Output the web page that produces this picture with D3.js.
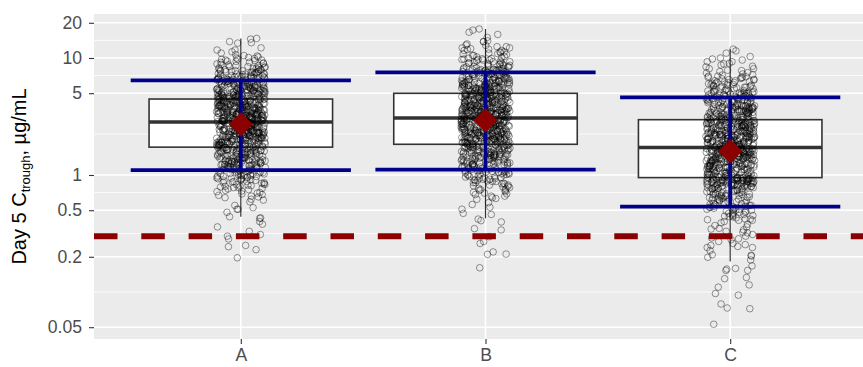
<!DOCTYPE html>
<html><head><meta charset="utf-8">
<script src="https://cdn.jsdelivr.net/npm/d3@7"></script>
<style>body{margin:0;background:#fff}svg{display:block}</style>
</head><body><svg id="chart" width="863" height="367"></svg>
<script>
// ---------------- data ----------------
const categories = ["A", "B", "C"];

const valuesA = [0.196,0.23,0.244,0.25,0.284,0.30,0.31,0.33,0.36,0.38,0.40,0.426,0.43,0.44,0.48,
0.51,0.51,0.526,0.55,0.59,0.61,0.64,0.66,0.68,0.69,0.72,0.74,0.76,0.78,
0.80,0.81,0.83,0.84,0.86,0.88,0.89,0.91,0.93,0.95,0.97,0.99,
1.00,1.02,1.03,1.05,1.06,1.08,1.09,1.11,1.12,1.14,1.15,1.17,1.18,1.20,1.21,1.23,1.24,1.25,
1.26,1.27,1.28,1.29,1.30,1.31,1.32,1.33,1.34,1.35,1.36,1.37,1.38,1.39,1.40,1.41,1.43,1.44,1.45,1.46,1.48,1.49,1.51,1.52,1.53,1.55,1.56,1.58,
1.59,1.60,1.61,1.62,1.63,1.64,1.65,1.66,1.67,1.68,1.69,1.70,1.71,1.72,1.73,1.74,1.75,1.76,1.77,1.78,1.79,1.80,1.81,1.82,1.83,1.84,1.85,1.86,1.87,1.88,1.89,1.90,1.91,1.92,1.94,1.95,1.97,1.99,
2.00,2.01,2.02,2.03,2.05,2.06,2.07,2.08,2.09,2.10,2.12,2.13,2.14,2.15,2.16,2.17,2.18,2.19,2.20,2.21,2.22,2.23,2.24,2.25,2.26,2.27,2.28,2.29,2.30,2.31,2.32,2.33,2.34,2.35,2.36,2.37,2.38,2.39,2.40,2.41,2.42,2.44,2.45,2.47,2.49,2.51,
2.52,2.53,2.55,2.56,2.57,2.59,2.60,2.61,2.63,2.64,2.65,2.67,2.68,2.69,2.71,2.72,2.73,2.75,2.76,2.77,2.79,2.80,2.81,2.83,2.84,2.85,2.87,2.88,2.89,2.91,2.92,2.93,2.95,2.96,2.97,2.99,3.00,3.01,3.03,3.04,3.05,3.07,3.08,3.09,3.11,3.12,3.14,3.16,
3.17,3.19,3.20,3.22,3.23,3.25,3.27,3.28,3.30,3.31,3.33,3.35,3.36,3.38,3.39,3.41,3.43,3.44,3.46,3.47,3.49,3.51,3.52,3.54,3.55,3.57,3.59,3.60,3.62,3.63,3.65,3.67,3.68,3.70,3.71,3.73,3.75,3.76,3.78,3.79,3.81,3.83,3.84,3.86,3.87,3.89,3.91,3.92,3.94,3.95,3.96,3.98,
4.00,4.02,4.05,4.07,4.09,4.12,4.14,4.16,4.19,4.21,4.23,4.26,4.28,4.30,4.33,4.35,4.37,4.40,4.42,4.44,4.47,4.49,4.51,4.54,4.56,4.58,4.61,4.63,4.65,4.68,4.70,4.72,4.75,4.77,4.79,4.82,4.84,4.86,4.89,4.91,4.93,4.96,4.98,5.00,
5.03,5.07,5.11,5.15,5.19,5.22,5.26,5.30,5.34,5.38,5.42,5.45,5.49,5.53,5.57,5.61,5.65,5.68,5.72,5.76,5.80,5.84,5.88,5.91,5.95,5.99,6.03,6.07,6.11,6.14,6.18,6.22,6.26,6.30,
6.35,6.42,6.49,6.55,6.62,6.69,6.76,6.83,6.90,6.96,7.03,7.10,7.17,7.24,7.30,7.37,7.44,7.51,7.58,7.64,7.71,7.78,7.85,7.92,
8.0,8.15,8.3,8.45,8.6,8.75,8.9,9.05,9.2,9.35,9.5,9.6,9.75,9.9,
10.1,10.4,10.7,11.0,11.3,11.7,11.7,12.2,13.4,13.5,13.8,14.5,14.7,
0.62,0.65,0.67,0.70,0.71,0.73,0.75,0.77,0.78,0.79,
0.80,0.82,0.83,0.85,0.86,0.87,0.88,0.90,0.91,0.92,0.93,0.94,0.95,0.96,0.97,0.98,0.99,0.99,
1.00,1.01,1.02,1.03,1.04,1.05,1.06,1.07,1.08,1.09,1.10,1.11,1.12,1.13,1.14,1.15,1.16,1.17,1.18,1.19,1.20,1.21,1.22,1.22,1.23,1.23,1.24,1.24,1.25,1.25,
1.26,1.27,1.28,1.29,1.30,1.31,1.32,1.33,1.34,1.35,1.36,1.37,1.38,1.39,1.40,1.41,1.42,1.43,1.44,1.45,1.46,1.47,1.48,1.49,1.50,1.51,1.52,1.53,1.54,1.55,1.57,1.58,1.60,1.61,1.62,1.63,1.65,1.66,1.68,1.69,1.71,1.72,
1.74,1.75,1.76,1.77,1.78,1.79,1.80,1.81,1.82,1.83,1.84,1.85,1.86,1.87,1.88,1.89,1.90,1.91,1.92,1.93,1.94,1.95,1.96,1.97,1.98,1.99,2.00,2.01,2.02,2.03,2.04,2.05,2.06,2.07,2.08,2.09,2.10,2.11,2.12,2.13,2.14,2.15,2.16,2.17,2.18,2.19,2.20,
2.21,2.22,2.23,2.25,2.26,2.27,2.28,2.29,2.31,2.32,2.33,2.34,2.35,2.37,2.38,2.39,2.40,2.41,2.43,2.44,2.45,2.46,2.47,2.49,2.50,2.51,2.52,2.53,2.55,2.56,2.57,2.58,2.59,2.61,2.62,2.63,2.64,2.65,2.67,2.68,2.69,2.70,2.71,2.73,2.74,2.75,2.76,2.77,2.79,2.80,2.81,2.82,2.83,
2.85,2.86,2.87,2.89,2.90,2.91,2.92,2.93,2.95,2.96,2.97,2.98,2.99,3.01,3.02,3.03,3.04,3.05,3.07,3.08,3.09,3.10,3.11,3.13,3.14,3.15,3.16,3.17,3.19,3.20,3.21,3.22,3.23,3.25,3.26,3.27,3.28,3.29,3.31,3.32,3.33,3.34,3.35,3.37,3.38,3.39,3.40,3.41,3.43,3.44,
3.46,3.48,3.50,3.52,3.54,3.56,3.58,3.60,3.62,3.64,3.66,3.68,3.70,3.72,3.74,3.76,3.78,3.80,3.82,3.84,3.86,3.88,3.90,3.92,3.94,3.96,3.98,4.00,4.02,4.04,4.06,4.08,4.10,4.12,4.14,4.16,4.18,4.20,4.22,4.24,4.26,4.28,4.30,4.32,4.34,4.36,4.38,4.40,4.42,4.44,
4.47,4.50,4.52,4.55,4.58,4.60,4.63,4.66,4.68,4.71,4.74,4.76,4.79,4.82,4.84,4.87,4.90,4.92,4.95,4.98,5.00,5.03,5.06,5.08,5.11,5.14,5.16,5.19,5.22,5.24,5.27,5.30,5.32,5.35,5.38,5.40,5.43,5.46,
5.50,5.54,5.59,5.63,5.68,5.72,5.77,5.81,5.86,5.90,5.95,5.99,6.04,6.08,6.13,6.17,6.22,6.26,6.31,6.35,6.40,6.44,6.49,6.53,6.58,6.62,6.67,6.71,6.76,6.80,6.85,6.89,6.94,6.98,
7.05,7.13,7.21,7.30,7.38,7.46,7.55,7.63,7.71,7.80,7.88,7.96,8.05,8.13,8.21,8.30,8.38,8.46,
8.6,8.8,9.0,9.2,9.4,9.6,9.8,10.0,10.2,10.5];

const valuesB = [0.161,0.21,0.211,0.22,0.26,0.27,0.297,0.339,0.348,0.397,0.407,0.42,0.46,0.47,
0.51,0.53,0.56,0.58,0.62,0.64,0.66,0.69,0.71,0.74,0.76,0.78,
0.80,0.82,0.84,0.86,0.88,0.90,0.92,0.94,0.96,0.98,
1.01,1.02,1.04,1.06,1.07,1.09,1.10,1.12,1.14,1.15,1.17,1.19,1.21,1.23,1.25,
1.27,1.28,1.29,1.31,1.32,1.33,1.35,1.36,1.37,1.39,1.40,1.41,1.43,1.44,1.45,1.47,1.48,1.49,1.51,1.52,1.53,1.55,1.56,1.57,1.58,
1.59,1.60,1.61,1.63,1.64,1.65,1.66,1.67,1.68,1.69,1.70,1.71,1.73,1.74,1.75,1.76,1.77,1.78,1.79,1.80,1.81,1.83,1.84,1.85,1.86,1.87,1.88,1.89,1.90,1.91,1.93,1.94,1.95,1.96,1.97,1.99,
2.00,2.01,2.02,2.04,2.05,2.06,2.07,2.08,2.09,2.11,2.12,2.13,2.14,2.15,2.16,2.18,2.19,2.20,2.21,2.22,2.23,2.25,2.26,2.27,2.28,2.29,2.30,2.32,2.33,2.34,2.35,2.36,2.37,2.39,2.40,2.41,2.42,2.43,2.44,2.46,2.47,2.48,2.49,2.51,
2.52,2.54,2.55,2.56,2.58,2.59,2.60,2.62,2.63,2.64,2.66,2.67,2.68,2.70,2.71,2.72,2.74,2.75,2.76,2.78,2.79,2.80,2.82,2.83,2.84,2.86,2.87,2.88,2.90,2.91,2.92,2.94,2.95,2.96,2.98,2.99,3.00,3.02,3.03,3.04,3.06,3.07,3.08,3.10,3.11,3.12,3.14,3.15,
3.17,3.18,3.20,3.22,3.23,3.25,3.27,3.28,3.30,3.32,3.33,3.35,3.37,3.38,3.40,3.42,3.43,3.45,3.47,3.48,3.50,3.52,3.53,3.55,3.57,3.58,3.60,3.62,3.63,3.65,3.67,3.68,3.70,3.72,3.73,3.75,3.77,3.78,3.80,3.82,3.83,3.85,3.87,3.88,3.90,3.92,3.93,3.95,3.96,3.98,
4.00,4.02,4.04,4.07,4.09,4.11,4.13,4.16,4.18,4.20,4.22,4.25,4.27,4.29,4.31,4.34,4.36,4.38,4.40,4.43,4.45,4.47,4.49,4.52,4.54,4.56,4.58,4.61,4.63,4.65,4.67,4.70,4.72,4.74,4.76,4.79,4.81,4.83,4.85,4.88,4.90,4.92,4.94,4.97,4.99,5.01,
5.03,5.07,5.10,5.14,5.17,5.21,5.25,5.28,5.32,5.35,5.39,5.43,5.46,5.50,5.53,5.57,5.61,5.64,5.68,5.71,5.75,5.79,5.82,5.86,5.89,5.93,5.97,6.00,6.04,6.07,6.11,6.15,6.18,6.22,6.25,6.29,
6.34,6.40,6.47,6.53,6.59,6.66,6.72,6.78,6.85,6.91,6.97,7.04,7.10,7.16,7.23,7.29,7.35,7.42,7.48,7.54,7.61,7.67,7.73,7.80,7.86,7.92,
8.0,8.1,8.25,8.4,8.5,8.65,8.8,8.9,9.05,9.2,9.3,9.45,9.6,9.7,9.85,9.95,
10.1,10.3,10.5,10.7,10.9,11.1,11.3,11.6,11.8,12.0,12.2,12.5,
12.8,13.2,13.8,13.8,14.0,15.0,15.9,16.6,17.3,17.7,
0.63,0.66,0.68,0.70,0.72,0.74,0.75,0.77,0.79,
0.81,0.82,0.84,0.85,0.86,0.88,0.89,0.90,0.91,0.92,0.93,0.94,0.95,0.96,0.97,0.99,
1.00,1.01,1.02,1.03,1.04,1.05,1.06,1.07,1.08,1.09,1.10,1.11,1.12,1.13,1.14,1.15,1.16,1.17,1.18,1.19,1.20,1.21,1.22,1.23,1.24,1.25,1.26,1.27,1.28,1.29,
1.30,1.31,1.32,1.33,1.34,1.35,1.36,1.37,1.38,1.39,1.40,1.41,1.42,1.43,1.44,1.45,1.46,1.47,1.48,1.49,1.50,1.51,1.52,1.53,1.54,1.55,1.56,1.57,1.58,1.59,1.60,1.62,1.63,1.65,1.66,1.68,1.69,1.71,1.72,1.74,1.75,1.77,1.78,1.80,1.82,
1.84,1.85,1.86,1.87,1.88,1.89,1.90,1.91,1.92,1.93,1.94,1.95,1.96,1.97,1.98,1.99,2.00,2.01,2.02,2.03,2.04,2.05,2.06,2.07,2.08,2.09,2.10,2.11,2.12,2.13,2.14,2.15,2.16,2.17,2.18,2.19,2.20,2.21,2.22,2.23,2.24,2.25,2.26,2.27,2.28,2.29,2.30,2.31,2.32,2.33,2.34,
2.35,2.37,2.38,2.40,2.41,2.43,2.44,2.46,2.47,2.49,2.50,2.52,2.53,2.55,2.56,2.58,2.59,2.61,2.62,2.64,2.65,2.67,2.68,2.70,2.71,2.73,2.74,2.76,2.77,2.79,2.80,2.82,2.83,2.85,2.86,2.88,2.89,2.91,2.92,2.94,2.95,2.97,2.98,3.00,3.01,3.03,3.04,3.05,3.06,
3.08,3.09,3.11,3.12,3.14,3.15,3.16,3.18,3.19,3.21,3.22,3.23,3.25,3.26,3.28,3.29,3.30,3.32,3.33,3.35,3.36,3.37,3.39,3.40,3.42,3.43,3.44,3.46,3.47,3.49,3.50,3.51,3.53,3.54,3.56,3.57,3.58,3.60,3.61,3.63,3.64,3.65,3.67,3.68,3.70,3.71,3.72,3.74,3.75,3.77,
3.79,3.81,3.84,3.86,3.89,3.91,3.94,3.96,3.99,4.01,4.04,4.06,4.09,4.11,4.14,4.16,4.19,4.21,4.24,4.26,4.29,4.31,4.34,4.36,4.39,4.41,4.44,4.46,4.49,4.51,4.54,4.56,4.59,4.61,4.64,4.66,4.69,4.71,4.74,4.76,4.79,4.81,4.84,4.86,4.89,4.91,4.93,4.95,4.96,4.98,
5.01,5.04,5.07,5.10,5.14,5.17,5.20,5.23,5.26,5.29,5.32,5.36,5.39,5.42,5.45,5.48,5.51,5.54,5.58,5.61,5.64,5.67,5.70,5.73,5.76,5.80,5.83,5.86,5.89,5.92,5.95,5.98,6.02,6.05,6.08,6.11,6.14,6.17,
6.22,6.27,6.33,6.38,6.44,6.49,6.55,6.60,6.66,6.71,6.77,6.82,6.88,6.93,6.99,7.04,7.10,7.15,7.21,7.26,7.32,7.37,7.43,7.48,7.54,7.59,7.65,7.70,7.76,7.81,7.87,7.92,7.96,7.99,
8.05,8.15,8.25,8.35,8.45,8.55,8.65,8.75,8.85,8.95,9.05,9.15,9.3,9.45,9.6,9.7,9.8,9.9,
10.2,10.5,10.8,11.0,11.3,11.6,11.9,12.2,12.5,12.9];

const valuesC = [0.053,0.072,0.073,0.079,0.094,0.097,0.11,0.115,0.13,0.133,
0.153,0.153,0.157,0.159,0.167,0.188,0.198,
0.203,0.206,0.208,0.226,0.24,0.24,0.245,0.25,
0.254,0.26,0.27,0.28,0.285,0.29,0.30,0.31,
0.32,0.325,0.33,0.34,0.345,0.35,0.36,0.37,0.38,0.39,
0.40,0.41,0.415,0.42,0.43,0.44,0.445,0.45,0.46,0.47,0.48,0.49,0.50,
0.505,0.51,0.52,0.53,0.535,0.54,0.55,0.56,0.57,0.58,0.59,0.60,0.61,0.62,0.63,
0.635,0.64,0.65,0.66,0.67,0.68,0.69,0.70,0.71,0.72,0.73,0.74,0.75,0.76,0.77,0.78,
0.795,0.80,0.81,0.82,0.83,0.84,0.85,0.86,0.87,0.88,0.89,0.90,0.91,0.92,0.93,0.94,0.95,0.96,0.98,0.99,
1.00,1.01,1.02,1.03,1.04,1.04,1.05,1.06,1.07,1.08,1.09,1.10,1.10,1.11,1.12,1.13,1.14,1.15,1.16,1.17,1.17,1.18,1.19,1.20,1.21,1.22,1.23,1.23,1.24,1.25,1.25,1.26,
1.27,1.27,1.28,1.29,1.30,1.30,1.31,1.32,1.33,1.33,1.34,1.35,1.36,1.36,1.37,1.38,1.39,1.39,1.40,1.41,1.42,1.42,1.43,1.44,1.45,1.45,1.46,1.47,1.48,1.48,1.49,1.50,1.51,1.51,1.52,1.53,1.54,1.54,1.55,1.56,1.57,1.57,1.58,1.58,
1.59,1.60,1.61,1.62,1.63,1.64,1.65,1.66,1.67,1.68,1.69,1.70,1.71,1.72,1.73,1.74,1.74,1.75,1.76,1.77,1.78,1.79,1.80,1.81,1.82,1.83,1.84,1.85,1.86,1.87,1.88,1.89,1.90,1.91,1.92,1.93,1.94,1.95,1.96,1.97,1.98,1.99,
2.00,2.01,2.03,2.04,2.05,2.06,2.07,2.08,2.10,2.11,2.12,2.13,2.14,2.15,2.17,2.18,2.19,2.20,2.21,2.22,2.24,2.25,2.26,2.27,2.28,2.29,2.31,2.32,2.33,2.34,2.35,2.36,2.38,2.39,2.40,2.41,2.42,2.43,2.45,2.46,2.47,2.48,2.49,2.50,
2.52,2.54,2.55,2.57,2.59,2.60,2.62,2.63,2.65,2.67,2.68,2.70,2.71,2.73,2.75,2.76,2.78,2.79,2.81,2.83,2.84,2.86,2.87,2.89,2.91,2.92,2.94,2.95,2.97,2.99,3.00,3.02,3.03,3.05,3.07,3.08,3.10,3.11,3.13,3.15,
3.17,3.20,3.22,3.25,3.27,3.30,3.32,3.35,3.37,3.40,3.43,3.45,3.48,3.50,3.53,3.55,3.58,3.60,3.63,3.66,3.68,3.71,3.73,3.76,3.78,3.81,3.83,3.86,3.89,3.91,3.94,3.96,
4.00,4.04,4.09,4.13,4.17,4.22,4.26,4.30,4.35,4.39,4.43,4.48,4.52,4.56,4.61,4.65,4.69,4.74,4.78,4.82,4.87,4.91,4.95,4.99,
5.05,5.13,5.21,5.30,5.38,5.46,5.54,5.62,5.70,5.78,5.86,5.94,6.02,6.10,6.18,6.26,
6.4,6.55,6.7,6.85,7.0,7.15,7.3,7.45,7.65,7.85,
8.1,8.5,8.9,9.3,9.8,10.3,11.0,11.5,11.9,
0.41,0.42,0.44,0.45,0.46,0.47,0.48,0.49,0.50,0.51,0.52,0.53,0.54,0.55,0.56,0.57,0.58,0.59,
0.60,0.61,0.62,0.63,0.64,0.645,0.65,0.66,0.665,0.67,0.68,0.685,0.69,0.70,0.705,0.71,0.72,0.725,0.73,0.74,0.745,0.75,0.76,0.765,0.77,0.78,0.785,0.79,0.795,0.80,
0.805,0.81,0.813,0.816,0.819,0.822,0.825,0.828,0.831,0.834,0.837,0.84,0.843,0.846,0.849,0.852,0.855,0.858,0.861,0.864,0.867,0.87,0.873,0.876,0.879,0.882,0.885,0.888,0.891,0.894,0.897,0.90,0.903,0.906,0.909,0.912,0.915,0.918,0.921,0.924,0.927,0.93,0.933,0.936,0.939,0.942,0.945,0.947,0.948,0.949,0.95,0.95,
0.955,0.96,0.967,0.974,0.981,0.988,0.995,1.002,1.009,1.016,1.023,1.03,1.037,1.044,1.051,1.058,1.065,1.072,1.079,1.086,1.093,1.10,1.107,1.114,1.121,1.128,1.135,1.142,1.149,1.156,1.163,1.17,1.177,1.184,1.191,1.198,1.205,1.212,1.219,1.226,1.233,1.24,1.247,1.254,1.261,1.268,1.275,1.282,1.289,1.296,
1.31,1.318,1.326,1.334,1.342,1.35,1.358,1.366,1.374,1.382,1.39,1.398,1.406,1.414,1.422,1.43,1.438,1.446,1.454,1.462,1.47,1.478,1.486,1.494,1.502,1.51,1.518,1.526,1.534,1.542,1.55,1.558,1.566,1.574,1.582,1.59,1.598,1.606,1.614,1.622,1.63,1.638,1.646,1.654,1.662,1.67,1.678,1.686,1.694,1.702,
1.73,1.74,1.75,1.76,1.77,1.78,1.79,1.80,1.81,1.82,1.83,1.84,1.85,1.86,1.87,1.88,1.89,1.90,1.91,1.92,1.93,1.94,1.95,1.96,1.97,1.98,1.99,2.00,2.01,2.02,2.03,2.04,2.05,2.06,2.07,2.08,2.09,2.10,2.11,2.12,2.13,2.14,2.15,2.16,2.17,2.18,2.19,2.20,2.21,2.22,
2.23,2.245,2.26,2.275,2.29,2.305,2.32,2.335,2.35,2.365,2.38,2.395,2.41,2.425,2.44,2.455,2.47,2.485,2.50,2.515,2.53,2.545,2.56,2.575,2.59,2.605,2.62,2.635,2.65,2.665,2.68,2.695,2.71,2.725,2.74,2.755,2.77,2.785,2.80,2.815,2.83,2.845,2.86,2.875,2.89,2.905,2.92,2.935,2.95,2.96,
2.98,3.00,3.03,3.05,3.08,3.10,3.13,3.15,3.18,3.20,3.23,3.25,3.28,3.30,3.33,3.35,3.38,3.40,3.43,3.45,3.48,3.50,3.53,3.55,3.58,3.60,3.63,3.65,3.68,3.70,3.73,3.75,3.78,3.80,3.83,3.85,3.88,3.90,3.93,3.96,
4.02,4.06,4.11,4.15,4.20,4.24,4.29,4.33,4.38,4.42,4.47,4.51,4.56,4.60,4.65,4.69,4.74,4.78,4.83,4.87,4.92,4.96,5.01,5.05,5.10,5.14,5.19,5.23,5.27,5.30,
5.38,5.46,5.55,5.63,5.72,5.80,5.89,5.97,6.06,6.14,6.23,6.31,6.40,6.48,6.57,6.65,6.74,6.82,6.91,6.99,
7.2,7.5,7.8,8.1,8.4,8.7,9.0,9.3,9.6,10.0];

// box-plot statistics
const boxQ1        = [1.73, 1.83, 0.95];
const boxMedian    = [2.84, 3.07, 1.72];
const boxQ3        = [4.46, 4.99, 2.97];
const whiskerLow   = [0.44, 0.426, 0.182];
const whiskerHigh  = [14.7, 17.7, 11.9];
// summary (diamond) and interval (blue bars)
const meanValue    = [2.71, 2.93, 1.60];
const intervalLow  = [1.10, 1.11, 0.536];
const intervalHigh = [6.45, 7.55, 4.61];
// reference line
const referenceLevel = 0.3;
// axis ticks
const yTicks      = [0.05, 0.2, 0.5, 1, 5, 10, 20];
const yTickLabels = ["0.05", "0.2", "0.5", "1", "5", "10", "20"];
const yDomain     = [0.03965, 23.77];

// ---------------- drawing ----------------
const svg = d3.select("#chart");
const font = "'Liberation Sans', Arial, Helvetica, sans-serif";
const panel = {left: 94, right: 877, top: 14, bottom: 339};

const x = d3.scalePoint().domain(categories).range([panel.left, panel.right]).padding(0.6);
const y = d3.scaleLog().domain(yDomain).range([panel.bottom, panel.top]);
const step = x.step();

const groups = categories.map((c, i) => ({
  cat: c, values: [valuesA, valuesB, valuesC][i],
  q1: boxQ1[i], med: boxMedian[i], q3: boxQ3[i],
  wlo: whiskerLow[i], whi: whiskerHigh[i],
  mean: meanValue[i], lo: intervalLow[i], hi: intervalHigh[i]
}));

// panel background
svg.append("rect").attr("x", panel.left).attr("y", panel.top)
  .attr("width", panel.right - panel.left).attr("height", panel.bottom - panel.top)
  .attr("fill", "#EBEBEB");

// minor grid (log midpoints between major breaks)
const minor = d3.pairs(yTicks).map(([a, b]) => Math.sqrt(a * b));
svg.append("g").selectAll("line").data(minor).join("line")
  .attr("x1", panel.left).attr("x2", panel.right)
  .attr("y1", d => y(d)).attr("y2", d => y(d))
  .attr("stroke", "#fff").attr("stroke-width", 0.8);
// major grid
svg.append("g").selectAll("line").data(yTicks).join("line")
  .attr("x1", panel.left).attr("x2", panel.right)
  .attr("y1", d => y(d)).attr("y2", d => y(d))
  .attr("stroke", "#fff").attr("stroke-width", 1.6);
svg.append("g").selectAll("line").data(categories).join("line")
  .attr("x1", d => x(d)).attr("x2", d => x(d))
  .attr("y1", panel.top).attr("y2", panel.bottom)
  .attr("stroke", "#fff").attr("stroke-width", 1.6);

// box plots
const boxW = step * 0.75;
const gb = svg.append("g").selectAll("g").data(groups).join("g");
gb.append("line").attr("x1", d => x(d.cat)).attr("x2", d => x(d.cat))
  .attr("y1", d => y(d.whi)).attr("y2", d => y(d.q3))
  .attr("stroke", "#333").attr("stroke-width", 1.2);
gb.append("line").attr("x1", d => x(d.cat)).attr("x2", d => x(d.cat))
  .attr("y1", d => y(d.q1)).attr("y2", d => y(d.wlo))
  .attr("stroke", "#333").attr("stroke-width", 1.2);
gb.append("rect").attr("x", d => x(d.cat) - boxW / 2).attr("width", boxW)
  .attr("y", d => y(d.q3)).attr("height", d => y(d.q1) - y(d.q3))
  .attr("fill", "#fff").attr("stroke", "#333").attr("stroke-width", 1.6);
gb.append("line").attr("x1", d => x(d.cat) - boxW / 2).attr("x2", d => x(d.cat) + boxW / 2)
  .attr("y1", d => y(d.med)).attr("y2", d => y(d.med))
  .attr("stroke", "#333").attr("stroke-width", 3.4);

// jittered points (deterministic jitter)
const jitter = d3.randomUniform.source(d3.randomLcg(0.4217))(-0.1, 0.1);
const pts = groups.flatMap(g => g.values.map(v => ({cat: g.cat, v, dx: jitter()})));
svg.append("g").selectAll("circle").data(pts).join("circle")
  .attr("cx", d => x(d.cat) + d.dx * step).attr("cy", d => y(d.v))
  .attr("r", 3.3).attr("fill", "none")
  .attr("stroke", "#000").attr("stroke-opacity", 0.48).attr("stroke-width", 0.85);

// reference dashed line
svg.append("line").attr("x1", panel.left).attr("x2", panel.right)
  .attr("y1", y(referenceLevel)).attr("y2", y(referenceLevel))
  .attr("stroke", "#8B0000").attr("stroke-width", 6)
  .attr("stroke-dasharray", "23.5,23.8");

// interval bars
const ebW = step * 0.9;
const ge = svg.append("g").selectAll("g").data(groups).join("g");
ge.append("line").attr("x1", d => x(d.cat)).attr("x2", d => x(d.cat))
  .attr("y1", d => y(d.lo)).attr("y2", d => y(d.hi))
  .attr("stroke", "#00008B").attr("stroke-width", 3.8);
ge.append("line").attr("x1", d => x(d.cat) - ebW / 2).attr("x2", d => x(d.cat) + ebW / 2)
  .attr("y1", d => y(d.hi)).attr("y2", d => y(d.hi))
  .attr("stroke", "#00008B").attr("stroke-width", 3.8);
ge.append("line").attr("x1", d => x(d.cat) - ebW / 2).attr("x2", d => x(d.cat) + ebW / 2)
  .attr("y1", d => y(d.lo)).attr("y2", d => y(d.lo))
  .attr("stroke", "#00008B").attr("stroke-width", 3.8);

// diamonds
const diamond = d3.symbol().type(d3.symbolSquare).size(290);
svg.append("g").selectAll("path").data(groups).join("path")
  .attr("d", diamond)
  .attr("transform", d => `translate(${x(d.cat)},${y(d.mean)}) rotate(45)`)
  .attr("fill", "#8B0000");

// axes
const yAxis = svg.append("g").attr("transform", `translate(${panel.left},0)`)
  .call(d3.axisLeft(y).tickValues(yTicks).tickFormat((d, i) => yTickLabels[i]).tickSize(5).tickPadding(7));
const xAxis = svg.append("g").attr("transform", `translate(0,${panel.bottom})`)
  .call(d3.axisBottom(x).tickSize(5).tickPadding(5));
[yAxis, xAxis].forEach(g => {
  g.select(".domain").remove();
  g.selectAll(".tick line").attr("stroke", "#333").attr("stroke-width", 1.1);
  g.selectAll(".tick text").attr("fill", "#4D4D4D").attr("font-size", 17.6).attr("font-family", font);
});

// y-axis title with subscript
const t = svg.append("text").attr("transform", `translate(26,${(panel.top + panel.bottom) / 2}) rotate(-90)`)
  .attr("text-anchor", "middle").attr("font-family", font).attr("font-size", 20).attr("fill", "#000");
t.append("tspan").text("Day 5 C");
t.append("tspan").attr("font-size", 13).attr("dy", 4).text("trough");
t.append("tspan").attr("dy", -4).text(", µg/mL");
</script></body></html>
